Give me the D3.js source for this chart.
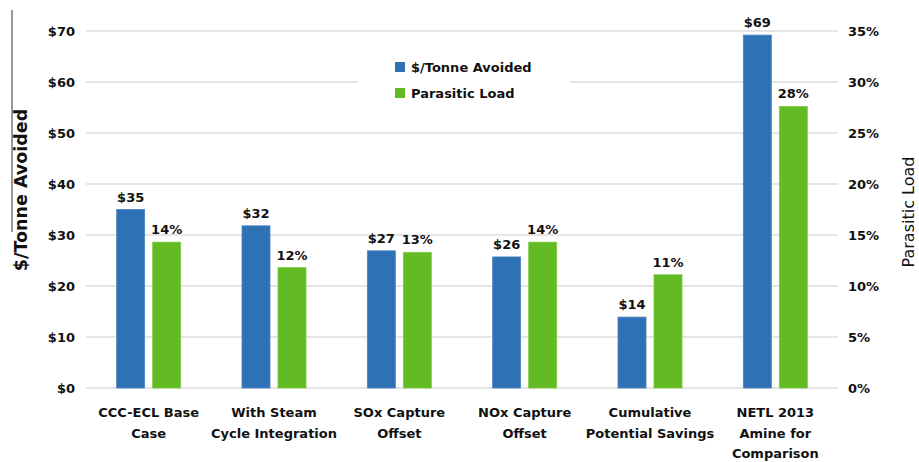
<!DOCTYPE html>
<html>
<head>
<meta charset="utf-8">
<script src="https://cdn.jsdelivr.net/npm/d3@7"></script>
<style>
  html, body { margin: 0; padding: 0; background: #fff; }
  svg { display: block; }
  text { font-family: "DejaVu Sans", sans-serif; fill: #111; }
</style>
</head>
<body>
<svg id="chart" width="919" height="462"></svg>
<script>
const categories = [
  "CCC-ECL Base\nCase",
  "With Steam\nCycle Integration",
  "SOx Capture\nOffset",
  "NOx Capture\nOffset",
  "Cumulative\nPotential Savings",
  "NETL 2013\nAmine for\nComparison"
];
const costPerTonne = [35, 31.8, 26.9, 25.7, 13.9, 69.2];
const parasiticLoad = [14.3, 11.8, 13.3, 14.3, 11.1, 27.6];
const leftTicks = [0, 10, 20, 30, 40, 50, 60, 70];
const rightTicks = [0, 5, 10, 15, 20, 25, 30, 35];
const seriesNames = ["$/Tonne Avoided", "Parasitic Load"];
const leftTitle = "$/Tonne Avoided";
const rightTitle = "Parasitic Load";

const colors = { cost: "#2e71b4", load: "#62bb22" };

const svg = d3.select("#chart");
const plotL = 86, plotR = 838, plotT = 31, plotB = 388;

const x = d3.scaleBand().domain(categories).range([plotL, plotR]).paddingInner(0).paddingOuter(0);
const yL = d3.scaleLinear().domain([0, 70]).range([plotB, plotT]);
const yR = d3.scaleLinear().domain([0, 35]).range([plotB, plotT]);
const barW = 28, gap = 4;

// gridlines
svg.append("g").selectAll("line").data(leftTicks).join("line")
  .attr("x1", plotL).attr("x2", plotR)
  .attr("y1", d => yL(d)).attr("y2", d => yL(d))
  .attr("stroke", "#dcdcdc").attr("stroke-width", 1.5);

// left axis
const axL = d3.axisLeft(yL).tickValues(leftTicks).tickSize(0).tickPadding(11).tickFormat(d => "$" + d);
svg.append("g").attr("transform", `translate(${plotL},0)`).call(axL)
  .call(g => g.select(".domain").remove())
  .call(g => g.selectAll("text").attr("font-family", "DejaVu Sans").attr("font-size", 13)
    .attr("font-weight", "bold").attr("fill", "#111"));

// right axis
const axR = d3.axisRight(yR).tickValues(rightTicks).tickSize(0).tickPadding(10).tickFormat(d => d + "%");
svg.append("g").attr("transform", `translate(${plotR},0)`).call(axR)
  .call(g => g.select(".domain").remove())
  .call(g => g.selectAll("text").attr("font-family", "DejaVu Sans").attr("font-size", 13)
    .attr("font-weight", "600").attr("fill", "#111"));

// bars
const cx = c => x(c) + x.bandwidth() / 2;
svg.append("g").selectAll("rect").data(categories).join("rect")
  .attr("x", c => cx(c) - gap - barW)
  .attr("width", barW)
  .attr("y", (c, i) => yL(costPerTonne[i]))
  .attr("height", (c, i) => plotB - yL(costPerTonne[i]))
  .attr("fill", colors.cost).attr("stroke", "#4a86c4").attr("stroke-width", 0.8);
svg.append("g").selectAll("rect").data(categories).join("rect")
  .attr("x", c => cx(c) + gap)
  .attr("width", barW)
  .attr("y", (c, i) => yR(parasiticLoad[i]))
  .attr("height", (c, i) => plotB - yR(parasiticLoad[i]))
  .attr("fill", colors.load).attr("stroke", "#7ccb45").attr("stroke-width", 0.8);

// value labels
svg.append("g").selectAll("text").data(categories).join("text")
  .attr("x", c => cx(c) - gap - barW / 2)
  .attr("y", (c, i) => yL(costPerTonne[i]) - 8)
  .attr("text-anchor", "middle").attr("font-size", 13).attr("font-weight", "bold")
  .text((c, i) => "$" + Math.round(costPerTonne[i]));
svg.append("g").selectAll("text").data(categories).join("text")
  .attr("x", c => cx(c) + gap + barW / 2)
  .attr("y", (c, i) => yR(parasiticLoad[i]) - 8)
  .attr("text-anchor", "middle").attr("font-size", 13).attr("font-weight", "bold")
  .text((c, i) => Math.round(parasiticLoad[i]) + "%");

// category labels
const catG = svg.append("g").selectAll("text").data(categories).join("text")
  .attr("x", c => cx(c)).attr("y", 417)
  .attr("text-anchor", "middle").attr("font-size", 13).attr("font-weight", "bold");
catG.each(function(c) {
  const t = d3.select(this);
  c.split("\n").forEach((line, k) => {
    t.append("tspan").attr("x", cx(c)).attr("dy", k === 0 ? 0 : 20.5).text(line);
  });
});

// legend
const lg = svg.append("g");
lg.append("rect").attr("x", 358).attr("y", 52).attr("width", 212).attr("height", 56).attr("fill", "#fff");
[colors.cost, colors.load].forEach((col, i) => {
  lg.append("rect").attr("x", 395).attr("y", 62 + i * 26).attr("width", 10).attr("height", 10).attr("fill", col);
  lg.append("text").attr("x", 411).attr("y", 72 + i * 26).attr("font-size", 13).attr("font-weight", "bold")
    .text(seriesNames[i]);
});

// axis titles
svg.append("line").attr("x1", 12).attr("x2", 12).attr("y1", 10).attr("y2", 232)
  .attr("stroke", "#333").attr("stroke-width", 1);
svg.append("text").attr("transform", "translate(27,190) rotate(-90)")
  .attr("text-anchor", "middle").attr("font-size", 17.5).attr("font-weight", "600").text(leftTitle);
svg.append("text").attr("transform", "translate(914,212) rotate(-90)")
  .attr("text-anchor", "middle").attr("font-size", 16).attr("font-weight", "normal").text(rightTitle);
</script>
</body>
</html>
